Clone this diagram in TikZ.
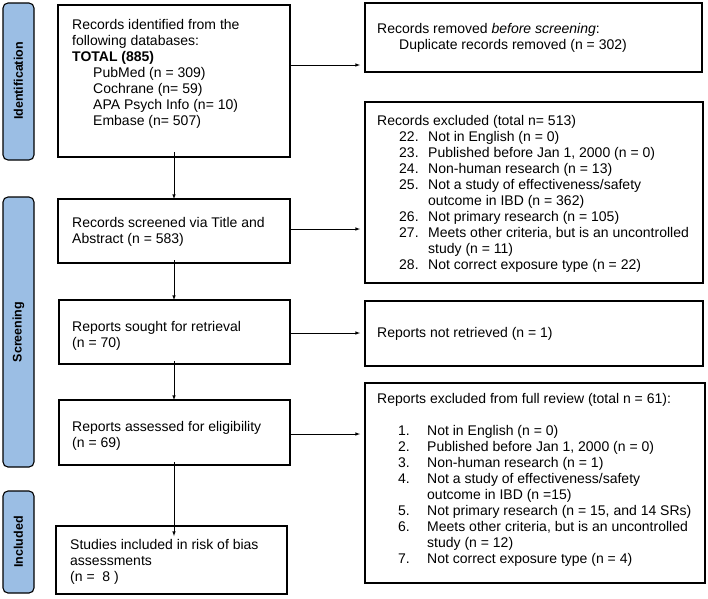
\documentclass[tikz,border=0pt]{standalone}
\usepackage{fontspec}
\setmainfont{Liberation Sans}
\newcommand{\itm}[1]{\makebox[29pt][l]{#1}}
\begin{document}
\begin{tikzpicture}[x=1pt,y=-1pt,
  box/.style={draw,line width=1.1pt,inner sep=0pt},
  side/.style={draw,line width=1.1pt,fill=sidec,rounded corners=5pt},
  lab/.style={rotate=90,font=\fontsize{12.5}{14}\selectfont\bfseries},
  txt/.style={anchor=north west,inner sep=0pt,align=left,font=\fontsize{14}{16}\selectfont},
  arr/.style={-latex,line width=0.6pt}]
\definecolor{sidec}{RGB}{155,190,228}
\useasboundingbox (0,0) rectangle (708,598);
% sidebars
\draw[side] (3,3) rectangle (34,160); \node[lab] (li) at (18.5,81) {Identification};
\draw[side] (3,197) rectangle (34,467); \node[lab] (ls) at (18.5,332) {Screening};
\draw[side] (3,491) rectangle (34,593); \node[lab] (lin) at (18.5,542) {Included};
% left boxes
\draw[box] (58,5) rectangle (290,157); \coordinate (b1) at (174,157); \coordinate (b1r) at (290,65);
\node[txt] (t1) at (72,19) {Records identified from the\\following databases:\\\textbf{TOTAL (885)}\\\hspace{21pt}PubMed (n = 309)\\\hspace{21pt}Cochrane (n= 59)\\\hspace{21pt}APA Psych Info (n= 10)\\\hspace{21pt}Embase (n= 507)};
\draw[box] (58,199) rectangle (290,263); \coordinate (b2t) at (174,199); \coordinate (b2b) at (174,263); \coordinate (b2r) at (290,229);
\node[txt] (t2) at (72,217) {Records screened via Title and\\Abstract (n = 583)};
\draw[box] (59,300) rectangle (290,364); \coordinate (b3t) at (174,300); \coordinate (b3b) at (174,364); \coordinate (b3r) at (290,333);
\node[txt] (t3) at (72,321) {Reports sought for retrieval\\(n = 70)};
\draw[box] (59,400) rectangle (290,465); \coordinate (b4t) at (174,400); \coordinate (b4b) at (174,465); \coordinate (b4r) at (290,434);
\node[txt] (t4) at (72,421) {Reports assessed for eligibility\\(n = 69)};
\draw[box] (56,526) rectangle (287,594); \coordinate (b5t) at (174,526);
\node[txt] (t5) at (70,539) {Studies included in risk of bias\\assessments\\(n =\ \ 8 )};
% right boxes
\draw[box] (365,3) rectangle (702,72); \coordinate (r1) at (365,65);
\node[txt] (u1) at (377,23) {Records removed \emph{before screening}:\\\hspace{22pt}Duplicate records removed (n = 302)};
\draw[box] (365,102) rectangle (703,283); \coordinate (r2) at (365,229);
\node[txt] (u2) at (377,115) {Records excluded (total n= 513)\\
\hspace{22pt}\itm{22.}Not in English (n = 0)\\
\hspace{22pt}\itm{23.}Published before Jan 1, 2000 (n = 0)\\
\hspace{22pt}\itm{24.}Non-human research (n = 13)\\
\hspace{22pt}\itm{25.}Not a study of effectiveness/safety\\\hspace{51pt}outcome in IBD (n = 362)\\
\hspace{22pt}\itm{26.}Not primary research (n = 105)\\
\hspace{22pt}\itm{27.}Meets other criteria, but is an uncontrolled\\\hspace{51pt}study (n = 11)\\
\hspace{22pt}\itm{28.}Not correct exposure type (n = 22)};
\draw[box] (365,301) rectangle (703,366); \coordinate (r3) at (365,333);
\node[txt] (u3) at (377,327) {Reports not retrieved (n = 1)};
\draw[box] (365,383) rectangle (705,583); \coordinate (r4) at (365,434);
\node[txt] (u4) at (377,393) {Reports excluded from full review (total n = 61):\\[16pt]
\hspace{21pt}\itm{1.}Not in English (n = 0)\\
\hspace{21pt}\itm{2.}Published before Jan 1, 2000 (n = 0)\\
\hspace{21pt}\itm{3.}Non-human research (n = 1)\\
\hspace{21pt}\itm{4.}Not a study of effectiveness/safety\\\hspace{50pt}outcome in IBD (n =15)\\
\hspace{21pt}\itm{5.}Not primary research (n = 15, and 14 SRs)\\
\hspace{21pt}\itm{6.}Meets other criteria, but is an uncontrolled\\\hspace{50pt}study (n = 12)\\
\hspace{21pt}\itm{7.}Not correct exposure type (n = 4)};
% arrows
\draw[arr] ([yshift=5pt]b1) -- (b2t);
\draw[arr] ([yshift=3pt]b2b) -- (b3t);
\draw[arr] ([yshift=3pt]b3b) -- (b4t);
\draw[arr] ([yshift=3pt]b4b) -- ([yshift=-10pt]b5t);
\draw[arr] (b1r) -- ([xshift=-5pt]r1);
\draw[arr] (b2r) -- ([xshift=-5pt]r2);
\draw[arr] (b3r) -- ([xshift=-5pt]r3);
\draw[arr] (b4r) -- ([xshift=-5pt]r4);
\end{tikzpicture}
\end{document}
